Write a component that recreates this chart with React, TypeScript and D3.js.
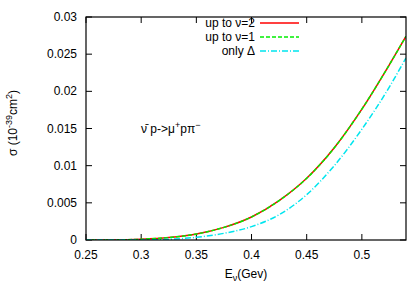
import React from 'react';
import * as d3 from 'd3';

const energies = [0.25, 0.275, 0.3, 0.325, 0.35, 0.375, 0.4, 0.425, 0.45, 0.475, 0.5, 0.525, 0.54];
const upTo2 = [0, 0.00001, 0.0001, 0.00033, 0.0008, 0.0017, 0.0031, 0.0053, 0.0083, 0.0124, 0.0176, 0.0236, 0.0274];
const upTo1 = [0, 0.00001, 0.0001, 0.00033, 0.0008, 0.0017, 0.0031, 0.0053, 0.0083, 0.0124, 0.0176, 0.0236, 0.0274];
const onlyDelta = [0, 0, 0, 0.0001, 0.00036, 0.0009, 0.0018, 0.0034, 0.0061, 0.0100, 0.0149, 0.0206, 0.0245];

const xTicks = [0.25, 0.3, 0.35, 0.4, 0.45, 0.5];
const yTicks = [0, 0.005, 0.01, 0.015, 0.02, 0.025, 0.03];

const series = [
    { label: 'up to ν=2', values: upTo2, color: '#ff0000', dash: '' },
    { label: 'up to ν=1', values: upTo1, color: '#00ee00', dash: '4,2' },
    { label: 'only Δ', values: onlyDelta, color: '#00e5ee', dash: '6,2,1,2' },
];

const width = 420;
const height = 295;
const margin = { top: 17, right: 14, bottom: 55, left: 86 };
const font = '"Liberation Sans", Arial, sans-serif';

const App: React.FC = () => {
    const innerW = width - margin.left - margin.right;
    const innerH = height - margin.top - margin.bottom;

    const xScale = d3.scaleLinear().domain([0.25, 0.54]).range([0, innerW]);
    const yScale = d3.scaleLinear().domain([0, 0.03]).range([innerH, 0]);

    const line = d3.line<number>()
        .x((d, i) => xScale(energies[i]))
        .y((d) => yScale(d))
        .curve(d3.curveMonotoneX);

    const tickLen = 6;

    return (
        <svg width={width} height={height} style={{ position: 'absolute', left: 0, top: 0, background: '#fff' }} fontFamily={font}>
            <g transform={`translate(${margin.left},${margin.top})`}>
                <defs>
                    <clipPath id="plot">
                        <rect x={0} y={0} width={innerW} height={innerH} />
                    </clipPath>
                </defs>

                {xTicks.map((t) => (
                    <g key={'x' + t}>
                        <line x1={xScale(t)} x2={xScale(t)} y1={innerH} y2={innerH - tickLen} stroke="#000" />
                        <line x1={xScale(t)} x2={xScale(t)} y1={0} y2={tickLen} stroke="#000" />
                        <text x={xScale(t)} y={innerH + 19} textAnchor="middle" fontSize={12}>{t}</text>
                    </g>
                ))}
                {yTicks.map((t) => (
                    <g key={'y' + t}>
                        <line x1={0} x2={tickLen} y1={yScale(t)} y2={yScale(t)} stroke="#000" />
                        <line x1={innerW} x2={innerW - tickLen} y1={yScale(t)} y2={yScale(t)} stroke="#000" />
                        <text x={-9} y={yScale(t) + 4} textAnchor="end" fontSize={12}>{t}</text>
                    </g>
                ))}

                <g clipPath="url(#plot)">
                    {series.map((s) => (
                        <path key={s.label} d={line(s.values) ?? ''} fill="none" stroke={s.color}
                            strokeWidth={1.5} strokeDasharray={s.dash || undefined} />
                    ))}
                </g>

                <rect x={0} y={0} width={innerW} height={innerH} fill="none" stroke="#000" strokeWidth={1.2} />

                {series.map((s, i) => (
                    <g key={'leg' + s.label} transform={`translate(0,${6 + i * 14})`}>
                        <text x={169} y={4} textAnchor="end" fontSize={12}>{s.label}</text>
                        <line x1={174} x2={213} y1={0} y2={0} stroke={s.color} strokeWidth={1.5}
                            strokeDasharray={s.dash || undefined} />
                    </g>
                ))}

                <text x={55} y={116} fontSize={12}>
                    <tspan>ν̄ p-&gt;μ</tspan>
                    <tspan dy={-5} fontSize={9}>+</tspan>
                    <tspan dy={5}>pπ</tspan>
                    <tspan dy={-5} fontSize={9}>−</tspan>
                </text>
            </g>

            <text x={margin.left + innerW / 2} y={278} textAnchor="middle" fontSize={12}>
                <tspan>E</tspan>
                <tspan dy={3} fontSize={9}>ν</tspan>
                <tspan dy={-3}>(Gev)</tspan>
            </text>

            <text transform={`translate(17,${123}) rotate(-90)`} textAnchor="middle" fontSize={12}>
                <tspan>σ (10</tspan>
                <tspan dy={-5} fontSize={9}>-39</tspan>
                <tspan dy={5}>cm</tspan>
                <tspan dy={-5} fontSize={9}>2</tspan>
                <tspan dy={5}>)</tspan>
            </text>
        </svg>
    );
};

export default App;
